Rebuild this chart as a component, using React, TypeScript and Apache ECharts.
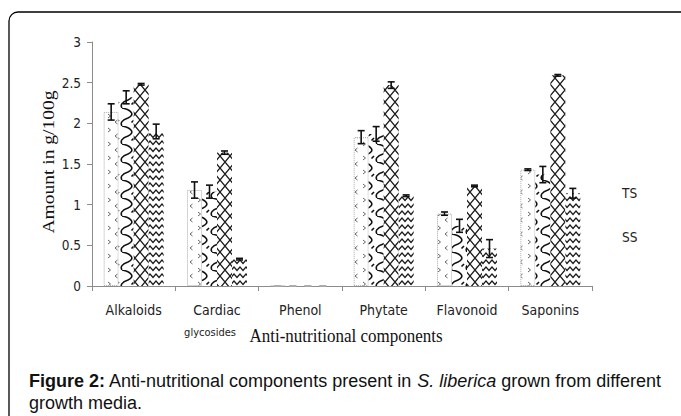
import React, { useEffect, useRef } from "react";
import * as echarts from "echarts";

const categories = ["Alkaloids", "Cardiac glycosides", "Phenol", "Phytate", "Flavonoid", "Saponins"];
const seriesNames = ["Medium 1", "Medium 2", "Medium 3", "Medium 4"];
const values1 = [2.14, 1.18, 0, 1.83, 0.89, 1.43];
const errors1 = [0.1, 0.1, 0, 0.08, 0.02, 0.01];
const values2 = [2.32, 1.16, 0, 1.87, 0.74, 1.37];
const errors2 = [0.08, 0.08, 0, 0.09, 0.08, 0.1];
const values3 = [2.48, 1.64, 0, 2.47, 1.23, 2.59];
const errors3 = [0.01, 0.02, 0, 0.04, 0.01, 0.01];
const values4 = [1.9, 0.33, 0, 1.11, 0.46, 1.14];
const errors4 = [0.09, 0.01, 0, 0.01, 0.11, 0.06];
const yMin = 0;
const yMax = 3;
const yInterval = 0.5;
const legendLabels = ["TS", "SS"];

const NARROW = "'Liberation Sans Narrow', 'Arial Narrow', 'DejaVu Sans Condensed', 'Liberation Sans', sans-serif";
const SERIF = "'Liberation Serif', 'Times New Roman', serif";
const SANS = "'Liberation Sans', Arial, sans-serif";

function makeTile(w: number, h: number, draw: (c: CanvasRenderingContext2D) => void) {
  const cv = document.createElement("canvas");
  cv.width = w;
  cv.height = h;
  const c = cv.getContext("2d")!;
  c.fillStyle = "#ffffff";
  c.fillRect(0, 0, w, h);
  draw(c);
  return cv;
}

function patterns() {
  const p1 = makeTile(15, 14, (c) => {
    c.strokeStyle = "#666";
    c.lineWidth = 1;
    c.beginPath();
    c.moveTo(3, 2);
    c.lineTo(5.5, 4);
    c.lineTo(3, 6);
    c.moveTo(12.5, 8);
    c.lineTo(10, 10);
    c.lineTo(12.5, 12);
    c.stroke();
  });
  const p2 = makeTile(15, 18, (c) => {
    c.strokeStyle = "#111";
    c.lineWidth = 1.6;
    c.beginPath();
    c.moveTo(2, 0);
    c.bezierCurveTo(12, 2, 15, 7, 8, 10);
    c.bezierCurveTo(2, 12, 0, 15, 2, 18);
    c.stroke();
    c.beginPath();
    c.moveTo(14, 12);
    c.lineTo(11.5, 14.5);
    c.stroke();
  });
  const p3 = makeTile(10, 12, (c) => {
    c.strokeStyle = "#1a1a1a";
    c.lineWidth = 1.3;
    c.beginPath();
    c.moveTo(-1, -1.2);
    c.lineTo(11, 13.2);
    c.moveTo(11, -1.2);
    c.lineTo(-1, 13.2);
    c.stroke();
  });
  const p4 = makeTile(6, 7, (c) => {
    c.strokeStyle = "#1a1a1a";
    c.lineWidth = 1.3;
    c.beginPath();
    c.moveTo(-0.5, 0.5);
    c.lineTo(3, 4.5);
    c.lineTo(6.5, 0.5);
    c.stroke();
  });
  return [p1, p2, p3, p4];
}

const GAP = 0.28;

export default function App() {
  const ref = useRef<HTMLDivElement>(null);
  useEffect(() => {
    if (!ref.current) return;
    const chart = echarts.init(ref.current, null, { renderer: "svg" });
    const tiles = patterns();
    const allValues = [values1, values2, values3, values4];
    const allErrors = [errors1, errors2, errors3, errors4];

    const barSeries = allValues.map((vals, i) => ({
      type: "bar",
      name: seriesNames[i],
      data: vals,
      barGap: "0%",
      barCategoryGap: "28%",
      itemStyle: {
        color: { image: tiles[i], repeat: "repeat" },
        borderColor: i === 0 ? "#aaa" : "transparent",
        borderWidth: i === 0 ? 1 : 0,
        borderType: "dotted",
      },
      emphasis: { disabled: true },
    }));

    const errSeries = allValues.map((vals, i) => ({
      type: "custom",
      name: seriesNames[i] + " error",
      coordinateSystem: "cartesian2d",
      z: 5,
      data: vals.map((v, k) => [k, v, allErrors[i][k]]),
      encode: { x: 0, y: 1 },
      renderItem: (params: any, api: any) => {
        const cat = api.value(0);
        const v = api.value(1);
        const e = api.value(2);
        const catW = api.size([1, 0])[0];
        const groupW = catW * (1 - GAP);
        const barW = groupW / 4;
        const p = api.coord([cat, v]);
        const cx = p[0] - groupW / 2 + barW * (i + 0.5);
        const top = api.coord([cat, v + e])[1];
        const bot = api.coord([cat, Math.max(v - e, 0)])[1];
        const cap = 3.5;
        const st = { stroke: v === 0 ? "#aaa" : "#111", lineWidth: 1.6 };
        return {
          type: "group",
          children: [
            { type: "line", shape: { x1: cx, y1: top, x2: cx, y2: bot }, style: st },
            { type: "line", shape: { x1: cx - cap, y1: top, x2: cx + cap, y2: top }, style: st },
            { type: "line", shape: { x1: cx - cap, y1: bot, x2: cx + cap, y2: bot }, style: st },
          ],
        };
      },
    }));

    chart.setOption({
      animation: false,
      backgroundColor: "#ffffff",
      grid: { left: 92, right: 89, top: 42, bottom: 130, containLabel: false },
      xAxis: {
        type: "category",
        data: categories,
        axisLine: { lineStyle: { color: "#8c8c8c", width: 1 } },
        axisTick: { show: true, length: 5, lineStyle: { color: "#8c8c8c" } },
        axisLabel: {
          color: "#222",
          fontFamily: NARROW,
          fontSize: 14,
          lineHeight: 22,
          margin: 13,
          interval: 0,
          formatter: (v: string) =>
            v === "Cardiac glycosides" ? "Cardiac\n{s|glycosides}" : v,
          rich: {
            s: { fontFamily: NARROW, fontSize: 11, lineHeight: 22, color: "#222", padding: [0, 14, 0, 0] },
          },
        },
      },
      yAxis: {
        type: "value",
        min: yMin,
        max: yMax,
        interval: yInterval,
        axisLine: { show: true, lineStyle: { color: "#8c8c8c", width: 1 } },
        axisTick: { show: true, length: 5, lineStyle: { color: "#8c8c8c" } },
        splitLine: { show: false },
        axisLabel: { color: "#222", fontFamily: NARROW, fontSize: 13.5, margin: 11 },
      },
      series: [...barSeries, ...errSeries],
      graphic: [
        {
          type: "rect",
          shape: { x: 9, y: 12, width: 720, height: 460, r: 9 },
          style: { fill: "none", stroke: "#000", lineWidth: 1.3 },
          z: 100,
        },
        {
          type: "text",
          x: 48,
          y: 162,
          rotation: Math.PI / 2,
          scaleX: 1.15,
          style: { text: "Amount in g/100g", font: "17px " + SERIF, fill: "#111", align: "center", verticalAlign: "middle" },
        },
        {
          type: "text",
          x: 346,
          y: 336,
          scaleY: 1.1,
          style: { text: "Anti-nutritional components", font: "17px " + SERIF, fill: "#111", align: "center", verticalAlign: "middle" },
        },
        {
          type: "text",
          x: 622,
          y: 193,
          style: { text: legendLabels[0], font: "13.5px " + NARROW, fill: "#222", align: "left", verticalAlign: "middle" },
        },
        {
          type: "text",
          x: 622,
          y: 237,
          style: { text: legendLabels[1], font: "13.5px " + NARROW, fill: "#222", align: "left", verticalAlign: "middle" },
        },
        {
          type: "text",
          x: 29,
          y: 381,
          style: {
            text: "{b|Figure 2:} Anti-nutritional components present in {i|S. liberica} grown from different",
            font: "18px " + SANS,
            fill: "#111",
            align: "left",
            verticalAlign: "middle",
            rich: {
              b: { font: "bold 18px " + SANS, fill: "#111" },
              i: { font: "italic 18px " + SANS, fill: "#111" },
            },
          },
        },
        {
          type: "text",
          x: 29,
          y: 403,
          style: { text: "growth media.", font: "18px " + SANS, fill: "#111", align: "left", verticalAlign: "middle" },
        },
      ],
    });
    return () => chart.dispose();
  }, []);
  return (
    <div
      ref={ref}
      style={{ position: "fixed", left: 0, top: 0, width: 681, height: 416, background: "#fff" }}
    />
  );
}
